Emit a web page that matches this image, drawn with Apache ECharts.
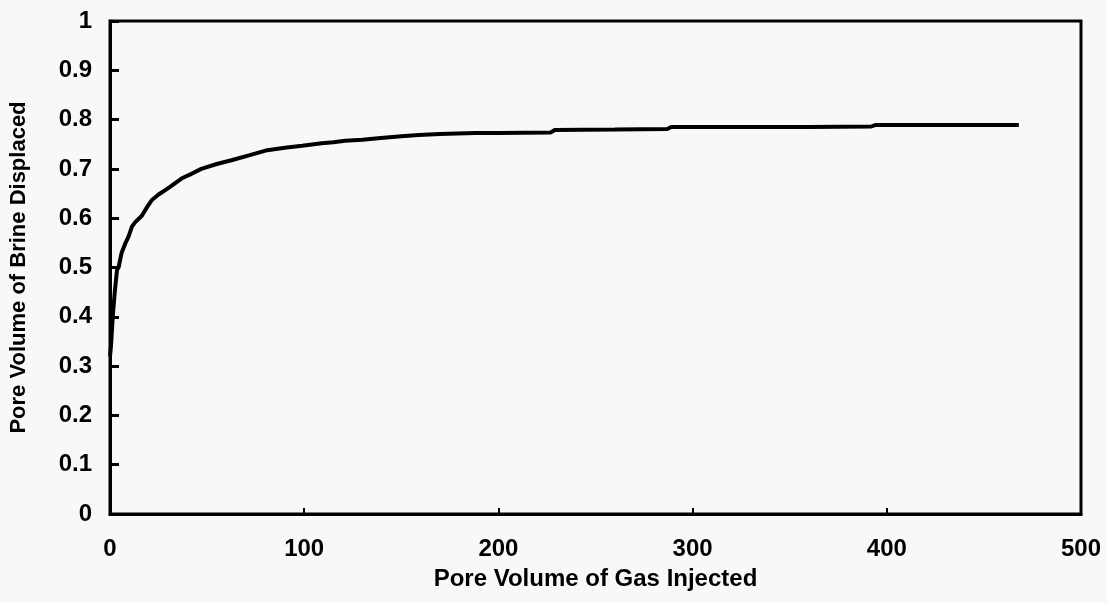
<!DOCTYPE html>
<html>
<head>
<meta charset="utf-8">
<script src="https://cdn.jsdelivr.net/npm/echarts@6/dist/echarts.min.js"></script>
<style>
  html, body { margin: 0; padding: 0; background: #f8f8f8; }
  #chart { width: 1107px; height: 603px; }
</style>
</head>
<body>
<div id="chart"></div>
<script>
// Cumulative brine displacement versus gas injected (pore volumes)
const gasInjected = [0, 0.5, 1.4, 2.4, 3.6, 4.4, 6, 8, 9.6, 11.3, 13, 16.4, 19, 21.6, 25, 30, 37, 42, 47, 55, 63, 72, 81, 90, 99, 109, 115, 121, 130, 138, 150, 159, 170, 188, 200, 227, 229, 260, 287, 289, 330, 360, 392, 394, 430, 468];
const brineDisplaced = [0.32, 0.34, 0.40, 0.448, 0.495, 0.50, 0.53, 0.55, 0.563, 0.583, 0.592, 0.605, 0.622, 0.637, 0.648, 0.661, 0.681, 0.69, 0.70, 0.71, 0.718, 0.728, 0.738, 0.743, 0.747, 0.752, 0.754, 0.757, 0.759, 0.762, 0.766, 0.769, 0.771, 0.773, 0.773, 0.774, 0.779, 0.780, 0.781, 0.785, 0.785, 0.785, 0.786, 0.789, 0.789, 0.789];

const xTicks = [0, 100, 200, 300, 400, 500];
const yTicks = [0, 0.1, 0.2, 0.3, 0.4, 0.5, 0.6, 0.7, 0.8, 0.9, 1];

const font = 'Liberation Sans, Arial, Helvetica, sans-serif';
const textStyle = { fontFamily: font, fontSize: 24, fontWeight: 'bold', color: '#000' };
const chart = echarts.init(document.getElementById('chart'));

chart.setOption({
  backgroundColor: '#f8f8f8',
  animation: false,
  grid: {
    left: 108, right: 26, top: 21, bottom: 89,
    show: true, borderColor: '#000', borderWidth: 3, backgroundColor: 'transparent'
  },
  xAxis: {
    type: 'value',
    min: xTicks[0], max: xTicks[xTicks.length - 1], interval: 100,
    name: 'Pore Volume of Gas Injected',
    nameLocation: 'middle', nameGap: 53,
    nameTextStyle: textStyle,
    axisLine: { show: true, lineStyle: { color: '#000', width: 3 } },
    axisTick: { show: true, inside: true, length: 6, lineStyle: { color: '#000', width: 2 } },
    axisLabel: Object.assign({ margin: 23 }, textStyle),
    splitLine: { show: false }
  },
  yAxis: {
    type: 'value',
    min: yTicks[0], max: yTicks[yTicks.length - 1], interval: 0.1,
    name: 'Pore Volume of Brine Displaced',
    nameLocation: 'middle', nameGap: 80,
    nameTextStyle: Object.assign({}, textStyle, { fontSize: 22 }),
    axisLine: { show: true, lineStyle: { color: '#000', width: 3 } },
    axisTick: { show: true, inside: true, length: 9, lineStyle: { color: '#000', width: 3 } },
    axisLabel: Object.assign({
      margin: 18,
      formatter: v => String(Math.round(v * 10) / 10)
    }, textStyle),
    splitLine: { show: false }
  },
  series: [{
    type: 'line',
    data: gasInjected.map((x, i) => [x, brineDisplaced[i]]),
    showSymbol: false,
    smooth: false,
    lineStyle: { color: '#000', width: 4 }
  }]
});
</script>
</body>
</html>
